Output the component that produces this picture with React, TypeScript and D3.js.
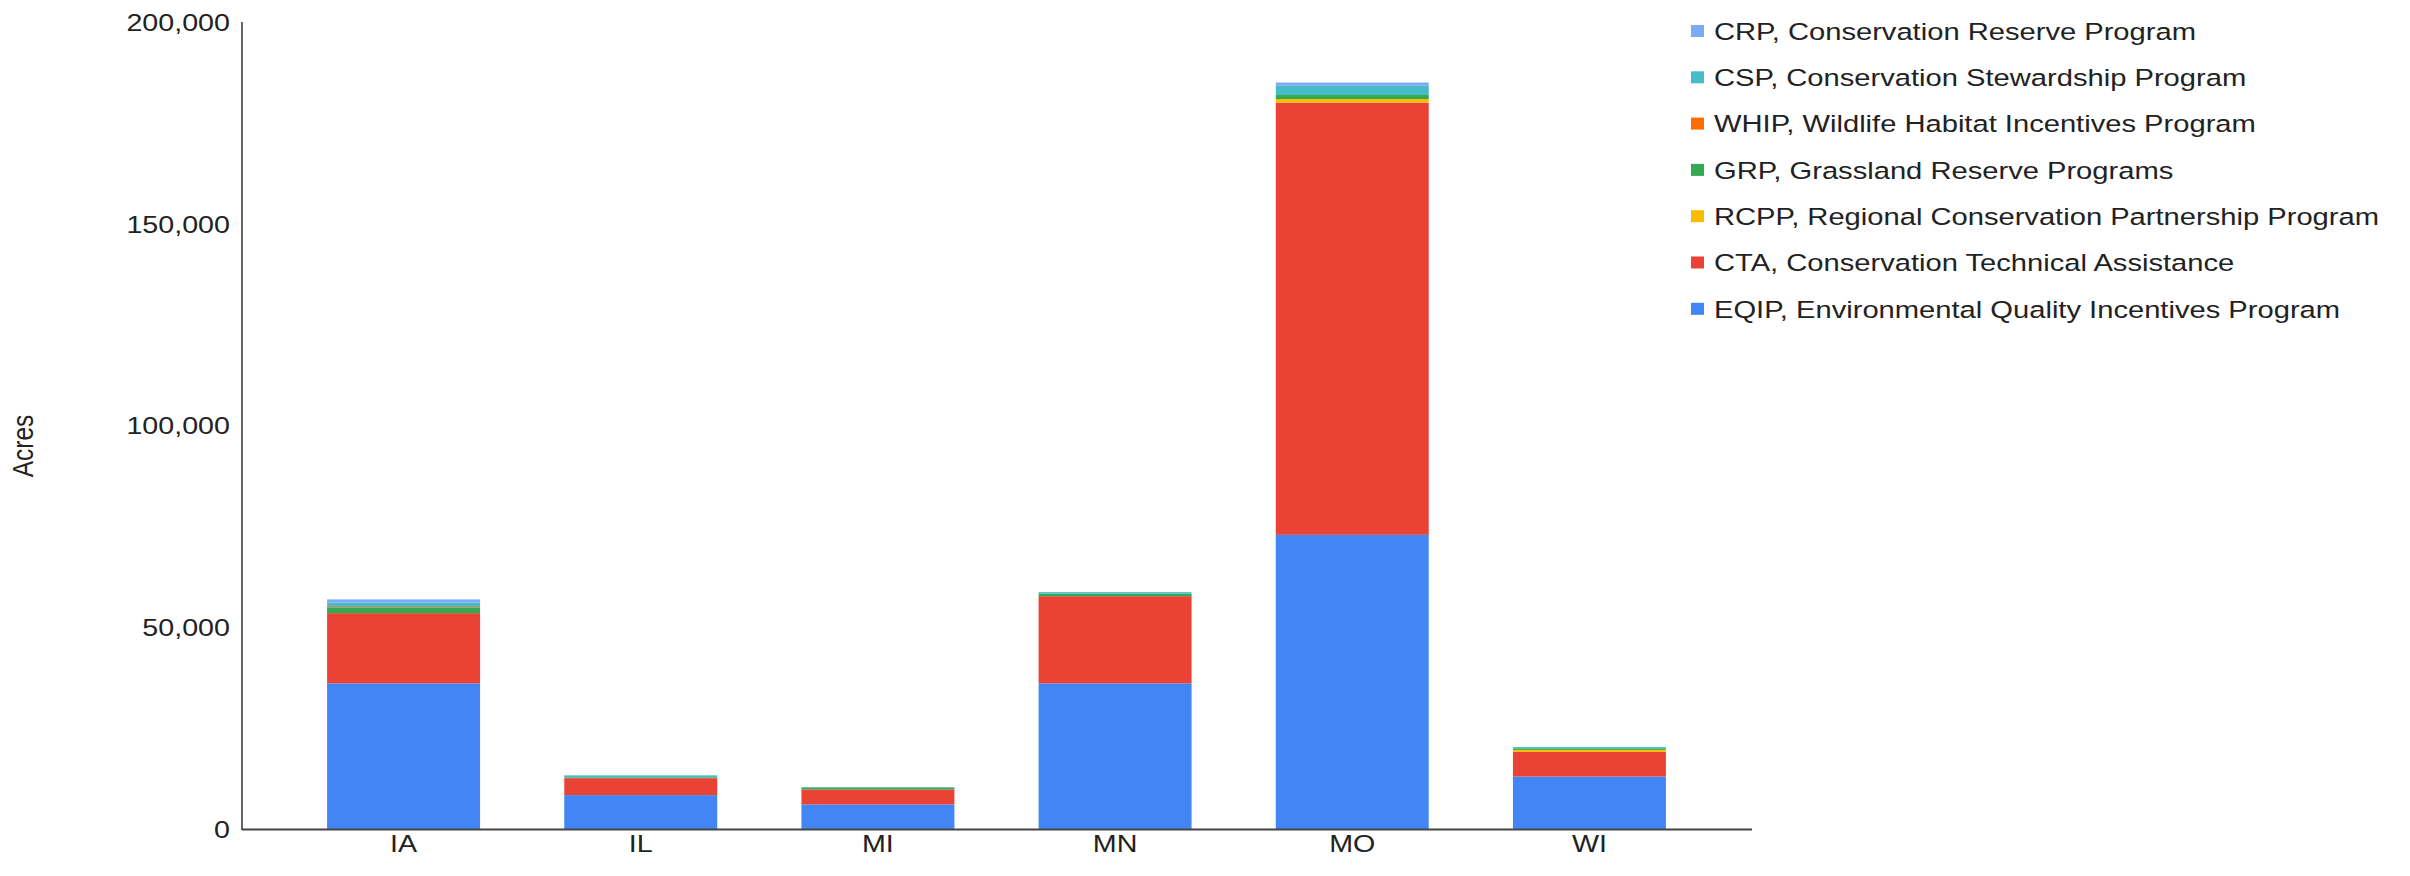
import React from "react";
import * as d3 from "d3";

const states = ["IA", "IL", "MI", "MN", "MO", "WI"];
const eqip = [36100, 8400, 6100, 36100, 72900, 13000];
const cta = [17400, 4200, 3700, 21600, 107100, 6100];
const rcpp = [0, 0, 0, 0, 900, 500];
const grp = [1300, 200, 500, 600, 1000, 400];
const whip = [200, 0, 0, 0, 0, 0];
const csp = [1100, 500, 100, 400, 2300, 300];
const crp = [800, 0, 0, 0, 800, 0];

const seriesKeys = ["EQIP", "CTA", "RCPP", "GRP", "WHIP", "CSP", "CRP"];
const seriesNames = [
  "EQIP, Environmental Quality Incentives Program",
  "CTA, Conservation Technical Assistance",
  "RCPP, Regional Conservation Partnership Program",
  "GRP, Grassland Reserve Programs",
  "WHIP, Wildlife Habitat Incentives Program",
  "CSP, Conservation Stewardship Program",
  "CRP, Conservation Reserve Program",
];
const seriesColors = ["#4285f4", "#ea4335", "#fbbc04", "#34a853", "#ff6d01", "#46bdc6", "#7baaf7"];
const yTicks = [0, 50000, 100000, 150000, 200000];

const W = 2410;
const H = 876;
const SX = 1.17;
const SX_LEG = 1.19;
const FONT = "'Liberation Sans', Arial, sans-serif";
const FS = 24.5;

export default function App() {
  const seriesValues = [eqip, cta, rcpp, grp, whip, csp, crp];
  const rows = states.map((s, i) => {
    const r: any = { state: s };
    seriesKeys.forEach((k, j) => (r[k] = seriesValues[j][i]));
    return r;
  });
  const stacked = d3.stack().keys(seriesKeys)(rows);

  const y = d3.scaleLinear().domain([0, 200000]).range([829, 22]);
  const x = d3
    .scaleBand()
    .domain(states)
    .range([285, 1708])
    .paddingInner(0.355)
    .paddingOuter(0.1775);
  const fmt = d3.format(",");

  const legendOrder = [6, 5, 4, 3, 2, 1, 0];

  const T = (props: any) => {
    const { x: tx, y: ty, sx, children, ...rest } = props;
    return (
      <text
        transform={`translate(${tx},${ty}) scale(${sx ?? SX},1)`}
        fontFamily={FONT}
        fontSize={FS}
        fill="#222"
        {...rest}
      >
        {children}
      </text>
    );
  };

  return (
    <svg
      width={W}
      height={H}
      style={{ position: "absolute", left: 0, top: 0, background: "#fff" }}
    >
      <rect x={0} y={0} width={W} height={H} fill="#fff" />
      {stacked.map((layer, li) => (
        <g key={layer.key} fill={seriesColors[li]}>
          {layer.map((d, i) => {
            const h = y(d[0]) - y(d[1]);
            if (h <= 0) return null;
            return (
              <rect
                key={i}
                x={x(states[i])}
                y={y(d[1])}
                width={x.bandwidth()}
                height={h}
              />
            );
          })}
        </g>
      ))}
      {/* axes */}
      <line x1={242} x2={242} y1={22} y2={830} stroke="#333" strokeWidth={1.5} />
      <line x1={242} x2={1752} y1={829.5} y2={829.5} stroke="#444" strokeWidth={2} />
      {yTicks.map((t) => (
        <T key={t} x={230} y={y(t)} textAnchor="end" dy="0.36em">
          {fmt(t)}
        </T>
      ))}
      {states.map((s) => (
        <T key={s} x={(x(s) as number) + x.bandwidth() / 2} y={852} textAnchor="middle">
          {s}
        </T>
      ))}
      <text
        transform={`translate(33,446) rotate(-90) scale(1,${SX})`}
        fontFamily={FONT}
        fontSize={FS}
        fill="#222"
        textAnchor="middle"
      >
        Acres
      </text>
      {legendOrder.map((si, row) => {
        const cy = 31 + row * 46.3;
        return (
          <g key={si}>
            <rect x={1691} y={cy - 6} width={13} height={12} fill={seriesColors[si]} />
            <T x={1714} y={cy} dy="0.36em" sx={SX_LEG}>
              {seriesNames[si]}
            </T>
          </g>
        );
      })}
    </svg>
  );
}
